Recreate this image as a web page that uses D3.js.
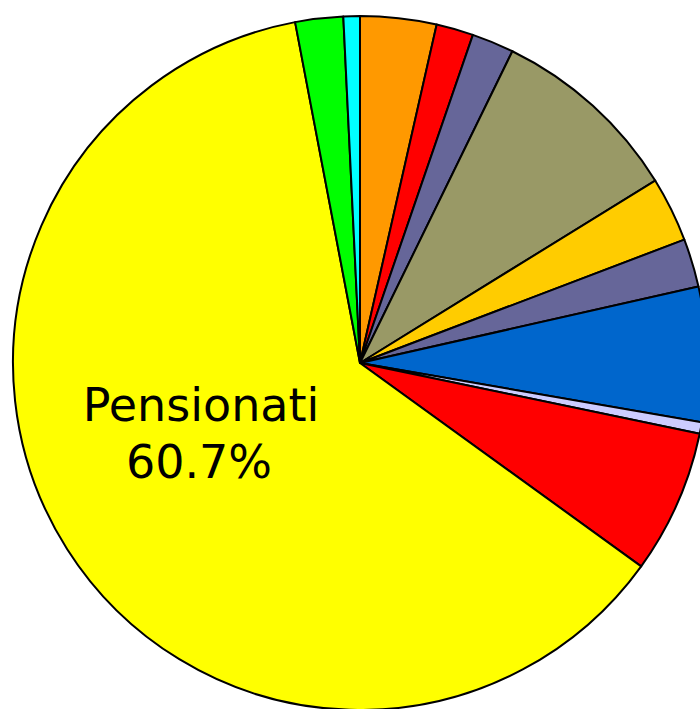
<!DOCTYPE html>
<html>
<head>
<meta charset="utf-8">
<script src="https://cdn.jsdelivr.net/npm/d3@7"></script>
<style>
html,body{margin:0;padding:0;background:#fff;overflow:hidden;}
svg{display:block;}
</style>
</head>
<body>
<svg id="chart" width="700" height="709"></svg>
<script>
// Data (percent shares, clockwise from 12 o'clock)
const categories = ["Cat A","Cat B","Cat C","Cat D","Cat E","Cat F","Cat G","Cat H","Cat I","Pensionati","Cat K","Cat L"];
const values = [3.47, 1.69, 1.92, 8.76, 2.96, 2.20, 6.14, 0.52, 6.55, 60.7, 2.18, 0.75];
const colors = ["#FF9900","#FF0000","#666699","#999966","#FFCC00","#666699","#0066CC","#CCCCFF","#FF0000","#FFFF00","#00FF00","#00FFFF"];
const labelled = ["Pensionati"];

const data = categories.map((c,i)=>({name:c, value:values[i], color:colors[i]}));
const svg = d3.select("#chart");
const cx = 360, cy = 363, r = 347;
const g = svg.append("g").attr("transform",`translate(${cx},${cy})`);

const pie = d3.pie().sort(null).value(d=>d.value).startAngle(0).endAngle(2*Math.PI);
const arc = d3.arc().innerRadius(0).outerRadius(r);
const arcs = pie(data);

g.selectAll("path").data(arcs).enter().append("path")
  .attr("d", arc)
  .attr("fill", d=>d.data.color)
  .attr("stroke", "#000")
  .attr("stroke-width", 2)
  .attr("stroke-linejoin","round");

const fmt = d3.format(".1f");
arcs.filter(d=>labelled.includes(d.data.name)).forEach(d=>{
  const t = g.append("text")
    .attr("text-anchor","middle")
    .attr("font-family","DejaVu Sans, Verdana, sans-serif")
    .attr("font-size", 46)
    .attr("fill","#000");
  t.append("tspan").attr("x",201-cx).attr("y",421-cy).text(d.data.name);
  t.append("tspan").attr("x",199-cx).attr("y",478-cy).text(fmt(d.data.value)+"%");
});
</script>
</body>
</html>
